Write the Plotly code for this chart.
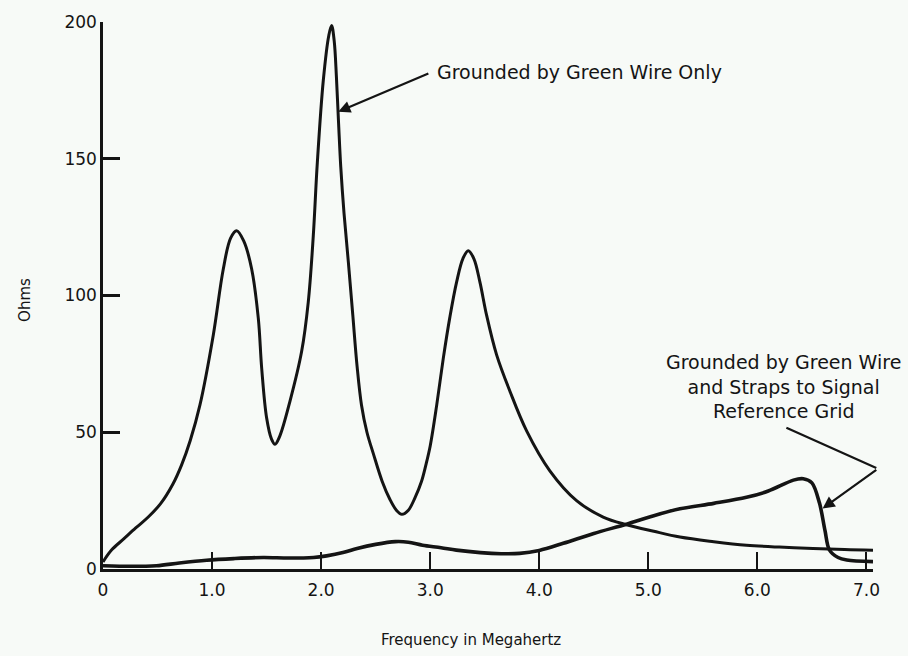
import plotly.graph_objects as go

# ---- data ----
freq_green = [0.0, 0.08, 0.19, 0.3, 0.415, 0.53, 0.64, 0.72, 0.80, 0.889, 1.011, 1.103, 1.17,
              1.225, 1.29, 1.363, 1.424, 1.455, 1.50, 1.545, 1.577, 1.62, 1.714, 1.821, 1.882,
              1.928, 1.965, 2.02, 2.07, 2.096, 2.12, 2.14, 2.16, 2.18, 2.21, 2.25, 2.29, 2.33,
              2.37, 2.42, 2.48, 2.56, 2.63, 2.69, 2.74, 2.80, 2.86, 2.92, 2.96, 3.0, 3.06, 3.12,
              3.18, 3.242, 3.30, 3.349, 3.40, 3.456, 3.517, 3.609, 3.731, 3.884, 4.097, 4.342,
              4.586, 4.80, 5.05, 5.29, 5.6, 5.90, 6.2, 6.51, 6.8, 7.06]
ohms_green = [2.6, 7.0, 11.0, 15.0, 19.0, 24.0, 31.0, 38.0, 47.0, 60.0, 85.5, 109.7, 121,
              123.7, 120, 109.7, 91.6, 73.4, 55.3, 47.5, 45.6, 48.5, 61.3, 79.5, 97.6,
              121.8, 148.5, 178.7, 195, 198.7, 193, 180, 163, 147, 130, 112, 93, 74,
              60, 50, 42, 32, 25.5, 21.5, 20.0, 21.5, 26, 32, 38, 45, 60, 77,
              92, 104.9, 113.5, 116.4, 113.5, 104.9, 92.8, 78.3, 65, 50.5, 35.9, 25,
              19, 16.2, 13.8, 11.7, 10, 8.7, 8.0, 7.5, 7.1, 6.9]

freq_straps = [0.0, 0.25, 0.49, 0.7, 0.95, 1.2, 1.47, 1.7, 1.93, 2.05, 2.2, 2.33, 2.5, 2.68, 2.8,
               2.93, 3.1, 3.24, 3.46, 3.65, 3.82, 4.0, 4.22, 4.5, 4.80, 5.05, 5.29, 5.6, 5.90,
               6.1, 6.33, 6.42, 6.50, 6.57, 6.62, 6.66, 6.74, 6.82, 7.06]
ohms_straps = [1.2, 1.0, 1.2, 2.2, 3.2, 3.8, 4.2, 4.0, 4.2, 4.8, 6.0, 7.5, 9.0, 10.0, 9.8,
               8.7, 7.8, 6.9, 6.0, 5.6, 5.7, 6.8, 9.4, 13.0, 16.4, 19.5, 22.0, 24.0, 26.2,
               28.5, 32.5, 33.0, 31.5, 24.0, 14.0, 7.0, 4.2, 3.3, 2.7]

x_ticks = [0, 1, 2, 3, 4, 5, 6, 7]
x_tick_labels = ["0", "1.0", "2.0", "3.0", "4.0", "5.0", "6.0", "7.0"]
y_ticks = [0, 50, 100, 150, 200]
y_tick_labels = ["0", "50", "100", "150", "200"]

label_green = "Grounded by Green Wire Only"
label_straps = "Grounded by Green Wire<br>and Straps to Signal<br>Reference Grid"

INK = "#141414"
BG = "#f7faf7"
FONT = "DejaVu Sans"

fig = go.Figure()
fig.add_trace(go.Scatter(x=freq_green, y=ohms_green, mode="lines",
                         line=dict(color=INK, width=3, shape="spline", smoothing=1.0),
                         showlegend=False, hoverinfo="skip"))
fig.add_trace(go.Scatter(x=freq_straps, y=ohms_straps, mode="lines",
                         line=dict(color=INK, width=3.6, shape="spline", smoothing=0.9),
                         showlegend=False, hoverinfo="skip"))

# annotation texts
fig.add_annotation(x=3.043, y=181.9, xref="x", yref="y", text=label_green, showarrow=False,
                   xanchor="left", yanchor="middle", font=dict(family=FONT, size=19, color=INK))
fig.add_annotation(x=6.242, y=66.8, xref="x", yref="y", text=label_straps, showarrow=False,
                   xanchor="center", yanchor="middle", align="center",
                   font=dict(family=FONT, size=19, color=INK))

# arrows
fig.add_annotation(x=2.157, y=167.2, ax=2.997, ay=181.4, xref="x", yref="y", axref="x", ayref="y",
                   text="", showarrow=True, arrowhead=2, arrowsize=1.1, arrowwidth=2.2,
                   arrowcolor=INK, standoff=0, startstandoff=0)
fig.add_annotation(x=6.266, y=51.65, ax=7.104, ay=36.66, xref="x", yref="y", axref="x", ayref="y",
                   text="", showarrow=True, arrowhead=0, arrowwidth=2.2,
                   arrowcolor=INK, standoff=0, startstandoff=0)
fig.add_annotation(x=6.598, y=22.1, ax=7.104, ay=36.66, xref="x", yref="y", axref="x", ayref="y",
                   text="", showarrow=True, arrowhead=2, arrowsize=1.1, arrowwidth=2.2,
                   arrowcolor=INK, standoff=0, startstandoff=0)

# axis titles
fig.add_annotation(x=-0.1013, y=0.492, xref="paper", yref="paper", text="Ohms", showarrow=False,
                   xanchor="center", yanchor="middle",
                   textangle=-90, font=dict(family=FONT, size=15, color=INK))
fig.add_annotation(x=0.478, y=-0.1289, xref="paper", yref="paper", text="Frequency in Megahertz",
                   xanchor="center", yanchor="middle",
                   showarrow=False, font=dict(family=FONT, size=15, color=INK))

fig.update_layout(
    width=908, height=656,
    margin=dict(l=103, r=35, t=18, b=87),
    paper_bgcolor=BG, plot_bgcolor=BG,
    showlegend=False,
    xaxis=dict(range=[0, 7.06], tickmode="array", tickvals=x_ticks, ticktext=x_tick_labels,
               ticks="inside", ticklen=17, tickwidth=2, tickcolor=INK,
               showline=True, linecolor=INK, linewidth=2.5, showgrid=False, zeroline=False,
               tickfont=dict(family=FONT, size=17, color=INK), ticklabelstandoff=4),
    yaxis=dict(range=[0, 200], tickmode="array", tickvals=y_ticks, ticktext=y_tick_labels,
               ticks="inside", ticklen=17, tickwidth=2.5, tickcolor=INK,
               showline=True, linecolor=INK, linewidth=2.5, showgrid=False, zeroline=False,
               tickfont=dict(family=FONT, size=17, color=INK)),
)

fig.write_html("out.html", config={"displayModeBar": False},
               post_script="document.body.style.margin='0';document.body.style.background='%s';" % BG)
